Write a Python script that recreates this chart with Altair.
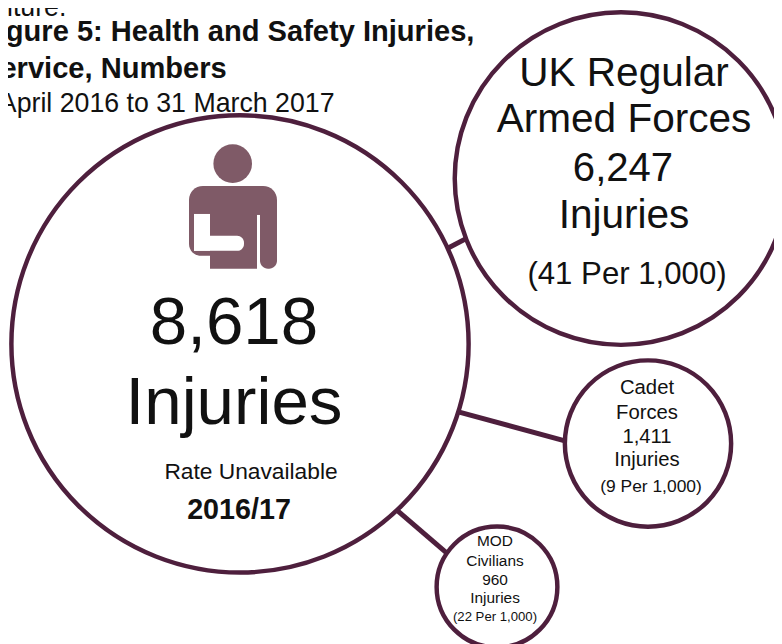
import altair as alt
import pandas as pd

# Text labels
txt = ["iture.", "Figure 5: Health and Safety Injuries,", "Service, Numbers", "1 April 2016 to 31 March 2017",
       "UK Regular", "Armed Forces", "6,247", "Injuries", "(41 Per 1,000)",
       "8,618", "Injuries", "Rate Unavailable", "2016/17",
       "Cadet", "Forces", "1,411", "Injuries", "(9 Per 1,000)",
       "MOD", "Civilians", "960", "Injuries", "(22 Per 1,000)"]
txt_x = [7, -20, -19, -22,
         624, 624, 623, 624, 627,
         234, 234, 251, 239,
         647, 647, 647, 647, 651,
         495, 495, 495, 495, 495]
txt_y = [5, 29, 66, 101,
         71, 117, 166, 214, 273,
         322, 403, 471, 509,
         386, 411, 436, 459, 486,
         540, 560, 579, 597, 616]
txt_size = [27, 29.4, 29.4, 27,
            41, 41, 40.5, 41, 31.5,
            68, 68, 23, 29,
            20.5, 20.5, 20.5, 20.5, 17.6,
            15.6, 15.6, 15.6, 15.6, 13.3]
txt_weight = ["normal", "bold", "bold", "normal",
              "normal", "normal", "normal", "normal", "normal",
              "normal", "normal", "normal", "bold",
              "normal", "normal", "normal", "normal", "normal",
              "normal", "normal", "normal", "normal", "normal"]
txt_align = ["left", "left", "left", "left"] + ["center"] * 19

# Circles
circle_x = [240, 621, 648, 497]
circle_y = [342, 176, 442, 586]
circle_r = [231, 168, 84, 61]

# Connectors
conn_x = [440, 450, 390]
conn_x2 = [480, 575, 455]
conn_y = [250, 408, 503]
conn_y2 = [229, 442, 559]

# Icon parts
head = [232.7, 161, 19.5]
icon_x = [189, 189, 210, 260]
icon_x2 = [277, 225, 257, 277]
icon_y = [183.5, 208.5, 198.5, 198.5]
icon_y2 = [223.5, 253.5, 266.5, 266.5]
sling_x = [194, 194, 257]
sling_x2 = [210, 244, 260]
sling_y = [211.5, 233.5, 212.5]
sling_y2 = [248.5, 248.5, 266.5]

DARK = "#4e1f3d"
ICON = "#7f5a67"
X = alt.X("x:Q", scale=alt.Scale(domain=[8, 774], nice=False), axis=None)
Y = alt.Y("y:Q", scale=alt.Scale(domain=[8, 640], reverse=True, nice=False), axis=None)

layers = []
layers.append(alt.Chart(pd.DataFrame({"x": conn_x, "x2": conn_x2, "y": conn_y, "y2": conn_y2}))
              .mark_rule(color=DARK, strokeWidth=5).encode(x=X, x2="x2:Q", y=Y, y2="y2:Q"))
for cx, cy, r in zip(circle_x, circle_y, circle_r):
    layers.append(alt.Chart(pd.DataFrame({"x": [cx], "y": [cy]}))
                  .mark_point(shape="circle", size=4 * r * r, filled=True, fill="white", stroke=DARK,
                              strokeWidth=4.5, opacity=1)
                  .encode(x=X, y=Y))

corner = [dict(cornerRadiusTopLeft=14, cornerRadiusTopRight=14),
          dict(cornerRadiusBottomLeft=12),
          dict(),
          dict(cornerRadiusBottomLeft=8, cornerRadiusBottomRight=8)]
for i in range(4):
    layers.append(alt.Chart(pd.DataFrame({"x": [icon_x[i]], "x2": [icon_x2[i]], "y": [icon_y[i]], "y2": [icon_y2[i]]}))
                  .mark_rect(color=ICON, opacity=1, **corner[i]).encode(x=X, x2="x2:Q", y=Y, y2="y2:Q"))
sling_corner = [dict(), dict(cornerRadiusTopRight=7, cornerRadiusBottomRight=7), dict()]
for i in range(3):
    layers.append(alt.Chart(pd.DataFrame({"x": [sling_x[i]], "x2": [sling_x2[i]], "y": [sling_y[i]], "y2": [sling_y2[i]]}))
                  .mark_rect(color="white", opacity=1, **sling_corner[i]).encode(x=X, x2="x2:Q", y=Y, y2="y2:Q"))
layers.append(alt.Chart(pd.DataFrame({"x": [head[0]], "y": [head[1]]}))
              .mark_point(shape="circle", size=4 * head[2] ** 2, filled=True, color=ICON, opacity=1)
              .encode(x=X, y=Y))

for i, t in enumerate(txt):
    layers.append(alt.Chart(pd.DataFrame({"x": [txt_x[i]], "y": [txt_y[i]], "t": [t]}))
                  .mark_text(font="Liberation Sans", fontSize=txt_size[i], fontWeight=txt_weight[i],
                             align=txt_align[i], baseline="middle", color="#111111", clip=False)
                  .encode(x=X, y=Y, text="t:N"))

chart = alt.layer(*layers).properties(
    width=774, height=636, padding=0, autosize=alt.AutoSizeParams(type="none")
).configure_view(stroke=None)

chart.save("out.html", embed_options={"renderer": "svg", "actions": False})
